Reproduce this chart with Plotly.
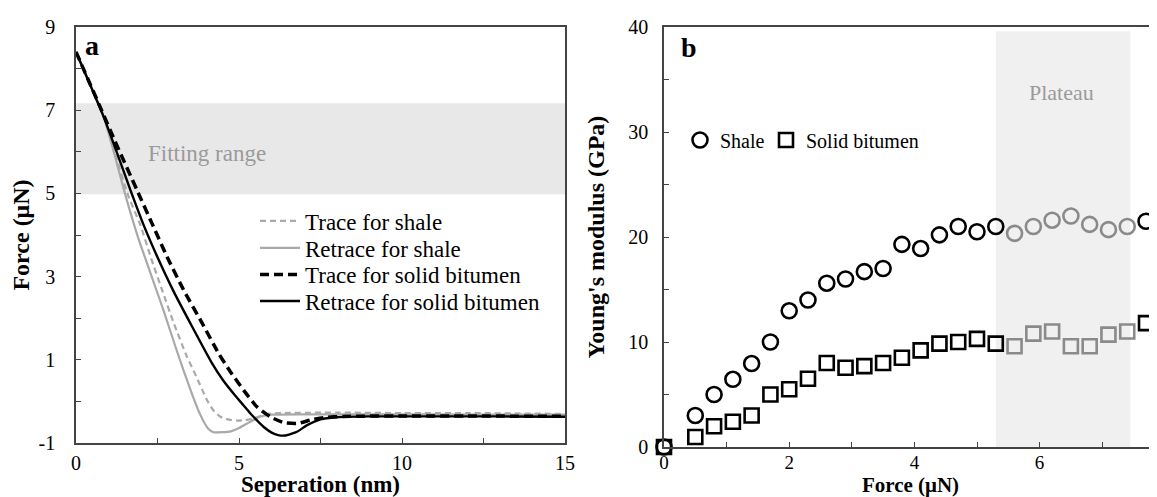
import plotly.graph_objects as go

# ---------------- Panel a data ----------------
trace_shale_x = [0, 0.85, 1.2, 1.6, 1.97, 2.3, 2.64, 3.0, 3.4, 3.66, 4.02, 4.2, 4.43, 4.7, 4.94, 5.2, 5.45, 5.86, 6.3, 8, 10, 12, 15]
trace_shale_y = [8.4, 6.84, 5.95, 4.95, 4.25, 3.45, 2.68, 1.88, 1.08, 0.65, 0.03, -0.2, -0.37, -0.44, -0.46, -0.45, -0.41, -0.3, -0.28, -0.27, -0.28, -0.28, -0.3]

retrace_shale_x = [0, 0.85, 1.2, 1.5, 1.9, 2.3, 2.7, 3.1, 3.5, 3.8, 4.05, 4.22, 4.5, 4.75, 5.0, 5.25, 5.65, 6.0, 7, 9, 11, 13, 15]
retrace_shale_y = [8.4, 6.84, 5.88, 5.0, 3.95, 3.05, 2.15, 1.2, 0.3, -0.3, -0.65, -0.74, -0.74, -0.72, -0.64, -0.53, -0.37, -0.32, -0.31, -0.31, -0.31, -0.32, -0.32]

trace_bit_x = [0, 0.74, 1.2, 1.87, 2.33, 2.79, 3.3, 3.87, 4.37, 4.73, 5.14, 5.55, 5.96, 6.37, 6.78, 7.19, 7.6, 8.2, 10, 12, 15]
trace_bit_y = [8.4, 7.08, 6.25, 5.08, 4.28, 3.48, 2.68, 1.88, 1.16, 0.72, 0.27, -0.13, -0.37, -0.51, -0.53, -0.45, -0.39, -0.36, -0.35, -0.35, -0.36]

retrace_bit_x = [0, 0.85, 1.2, 1.67, 2.07, 2.48, 2.99, 3.56, 4.17, 4.5, 4.83, 5.1, 5.35, 5.75, 6.0, 6.2, 6.42, 6.78, 7.09, 7.5, 8, 9, 11, 13, 15]
retrace_bit_y = [8.4, 6.84, 6.1, 5.08, 4.25, 3.5, 2.65, 1.8, 0.92, 0.52, 0.19, -0.06, -0.29, -0.61, -0.75, -0.81, -0.82, -0.73, -0.57, -0.43, -0.38, -0.36, -0.36, -0.36, -0.37]

fitting_range = [4.98, 7.17]

y_ticks_a = [-1, 1, 3, 5, 7, 9]
y_ticktext_a = ["-1", "1", "3", "5", "7", "9"]

# ---------------- Panel b data ----------------
force_pre = [0, 0.5, 0.8, 1.1, 1.4, 1.7, 2.0, 2.3, 2.6, 2.9, 3.2, 3.5, 3.8, 4.1, 4.4, 4.7, 5.0, 5.3]
force_plateau = [5.6, 5.9, 6.2, 6.5, 6.8, 7.1, 7.4]
force_post = [7.7, 8.0]

shale_pre = [0, 3.0, 5.0, 6.45, 7.95, 10.0, 12.97, 14.0, 15.6, 16.0, 16.7, 17.0, 19.3, 18.9, 20.2, 21.0, 20.5, 21.0]
shale_plateau = [20.35, 21.0, 21.6, 22.0, 21.2, 20.7, 21.0]
shale_post = [21.5, 21.6]

bit_pre = [0, 0.95, 1.97, 2.4, 3.0, 5.0, 5.5, 6.5, 8.0, 7.55, 7.7, 8.0, 8.5, 9.2, 9.85, 10.0, 10.3, 9.85]
bit_plateau = [9.6, 10.8, 11.0, 9.6, 9.6, 10.7, 11.0]
bit_post = [11.8, 11.95]

plateau_range = [5.3, 7.45]

FONT = "Liberation Serif"
GRAY_LINE = "#a9a9a9"
GRAY_MK = "#8a8a8a"
AXC = "#444444"
# the page body adds an 8px margin, so the figure is sized to fill the rest of the window
W, H = 1149, 489

fig = go.Figure()

# Panel a traces (each with its own legend box so rows can be spaced like the original)
fig.add_trace(go.Scatter(x=trace_shale_x, y=trace_shale_y, mode="lines", name="Trace for shale",
                         line=dict(color=GRAY_LINE, width=2.2, dash="6px,4px", shape="spline", smoothing=0.5),
                         xaxis="x", yaxis="y", legend="legend"))
fig.add_trace(go.Scatter(x=retrace_shale_x, y=retrace_shale_y, mode="lines", name="Retrace for shale",
                         line=dict(color=GRAY_LINE, width=2.2, shape="spline", smoothing=0.5),
                         xaxis="x", yaxis="y", legend="legend3"))
fig.add_trace(go.Scatter(x=trace_bit_x, y=trace_bit_y, mode="lines", name="Trace for solid bitumen",
                         line=dict(color="black", width=3.5, dash="9px,5px", shape="spline", smoothing=0.5),
                         xaxis="x", yaxis="y", legend="legend4"))
fig.add_trace(go.Scatter(x=retrace_bit_x, y=retrace_bit_y, mode="lines", name="Retrace for solid bitumen",
                         line=dict(color="black", width=2.4, shape="spline", smoothing=0.5),
                         xaxis="x", yaxis="y", legend="legend5"))

# Panel b traces
mk_c = dict(symbol="circle-open", size=15, line=dict(width=2.6))
mk_s = dict(symbol="square-open", size=14, line=dict(width=2.6))

fig.add_trace(go.Scatter(x=force_pre, y=shale_pre, mode="markers", name="Shale",
                         marker=dict(color="black", **mk_c), cliponaxis=False,
                         xaxis="x2", yaxis="y2", legend="legend2"))
fig.add_trace(go.Scatter(x=force_plateau, y=shale_plateau, mode="markers", showlegend=False,
                         marker=dict(color=GRAY_MK, **mk_c), cliponaxis=False,
                         xaxis="x2", yaxis="y2"))
fig.add_trace(go.Scatter(x=force_post, y=shale_post, mode="markers", showlegend=False,
                         marker=dict(color="black", **mk_c), cliponaxis=False,
                         xaxis="x2", yaxis="y2"))
fig.add_trace(go.Scatter(x=force_pre, y=bit_pre, mode="markers", name="Solid bitumen",
                         marker=dict(color="black", **mk_s), cliponaxis=False,
                         xaxis="x2", yaxis="y2", legend="legend6"))
fig.add_trace(go.Scatter(x=force_plateau, y=bit_plateau, mode="markers", showlegend=False,
                         marker=dict(color=GRAY_MK, **mk_s), cliponaxis=False,
                         xaxis="x2", yaxis="y2"))
fig.add_trace(go.Scatter(x=force_post, y=bit_post, mode="markers", showlegend=False,
                         marker=dict(color="black", **mk_s), cliponaxis=False,
                         xaxis="x2", yaxis="y2"))

# shaded regions
fig.add_shape(type="rect", xref="x domain", yref="y", x0=0, x1=1,
              y0=fitting_range[0], y1=fitting_range[1],
              fillcolor="#e8e8e8", line=dict(width=0), layer="below")
fig.add_shape(type="rect", xref="x2", yref="y2 domain", x0=plateau_range[0], x1=plateau_range[1],
              y0=0, y1=0.99, fillcolor="#f0f0f0", line=dict(width=0), layer="below")

# annotations
fig.add_annotation(x=0.49, y=8.55, xref="x", yref="y", text="<b>a</b>", showarrow=False,
                   font=dict(family=FONT, size=28, color="black"))
fig.add_annotation(x=4.02, y=5.96, xref="x", yref="y", text="Fitting range", showarrow=False,
                   font=dict(family=FONT, size=23, color="#9a9a9a"))
fig.add_annotation(x=0.4, y=38, xref="x2", yref="y2", text="<b>b</b>", showarrow=False,
                   font=dict(family=FONT, size=28, color="black"))
fig.add_annotation(x=6.35, y=33.8, xref="x2", yref="y2", text="Plateau", showarrow=False,
                   font=dict(family=FONT, size=22, color="#9a9a9a"))

axis_common = dict(showline=True, linecolor=AXC, linewidth=1.5, showgrid=False, zeroline=False,
                   ticks="inside", ticklen=5, tickcolor=AXC, tickwidth=1.2, automargin=False)
tf20 = dict(family=FONT, size=20, color="black")
tf19 = dict(family=FONT, size=19, color="black")

leg_a = dict(xanchor="left", yanchor="middle", bgcolor="rgba(0,0,0,0)",
             font=dict(family=FONT, size=23, color="black"), itemwidth=40)
leg_b = dict(xanchor="left", yanchor="middle", bgcolor="rgba(0,0,0,0)",
             font=dict(family=FONT, size=20, color="black"), itemwidth=30)
LX = 247 / W

fig.update_layout(
    width=W, height=H,
    margin=dict(l=0, r=0, t=0, b=0, autoexpand=False),
    plot_bgcolor="white", paper_bgcolor="white",
    font=dict(family=FONT, color="black"),
    xaxis=dict(domain=[68 / W, 557 / W], range=[0, 15], anchor="y", mirror=True,
               tickmode="linear", tick0=0, dtick=5, tickfont=tf20,
               minor=dict(dtick=2.5, ticks="inside", ticklen=5, tickcolor=AXC),
               ticklabelstandoff=1,
               title=dict(text="<b>Seperation (nm)</b>", font=dict(family=FONT, size=23), standoff=1),
               **axis_common),
    yaxis=dict(domain=[1 - 435 / H, 1 - 19 / H], range=[-1, 9], anchor="x", mirror=True,
               tickmode="array", tickvals=y_ticks_a, ticktext=y_ticktext_a, tickfont=tf20,
               minor=dict(dtick=1, tick0=-1, ticks="inside", ticklen=5, tickcolor=AXC),
               ticklabelstandoff=15,
               title=dict(text="<b>Force (μN)</b>", font=dict(family=FONT, size=24), standoff=4),
               **axis_common),
    xaxis2=dict(domain=[656 / W, 1.0], range=[0, (1157 - 664) / 62.6], anchor="y2", mirror=True,
                tickmode="linear", tick0=0, dtick=2, tickfont=tf19,
                minor=dict(dtick=1, ticks="inside", ticklen=5, tickcolor=AXC),
                ticklabelstandoff=-3,
                title=dict(text="<b>Force (μN)</b>", font=dict(family=FONT, size=21), standoff=3),
                **axis_common),
    yaxis2=dict(domain=[1 - 439 / H, 1 - 19 / H], range=[0, 40], anchor="x2", mirror=False,
                tickmode="linear", tick0=0, dtick=10, tickfont=tf20,
                minor=dict(dtick=5, ticks="inside", ticklen=5, tickcolor=AXC),
                ticklabelstandoff=10,
                title=dict(text="<b>Young's modulus (GPa)</b>", font=dict(family=FONT, size=24), standoff=17),
                **axis_common),
    legend=dict(x=LX, y=1 - 213 / H, **leg_a),
    legend3=dict(x=LX, y=1 - 240 / H, **leg_a),
    legend4=dict(x=LX, y=1 - 266.5 / H, **leg_a),
    legend5=dict(x=LX, y=1 - 293 / H, **leg_a),
    legend2=dict(x=672 / W, y=1 - 132 / H, **leg_b),
    legend6=dict(x=758 / W, y=1 - 132 / H, **leg_b),
)

fig.write_html("out.html")
